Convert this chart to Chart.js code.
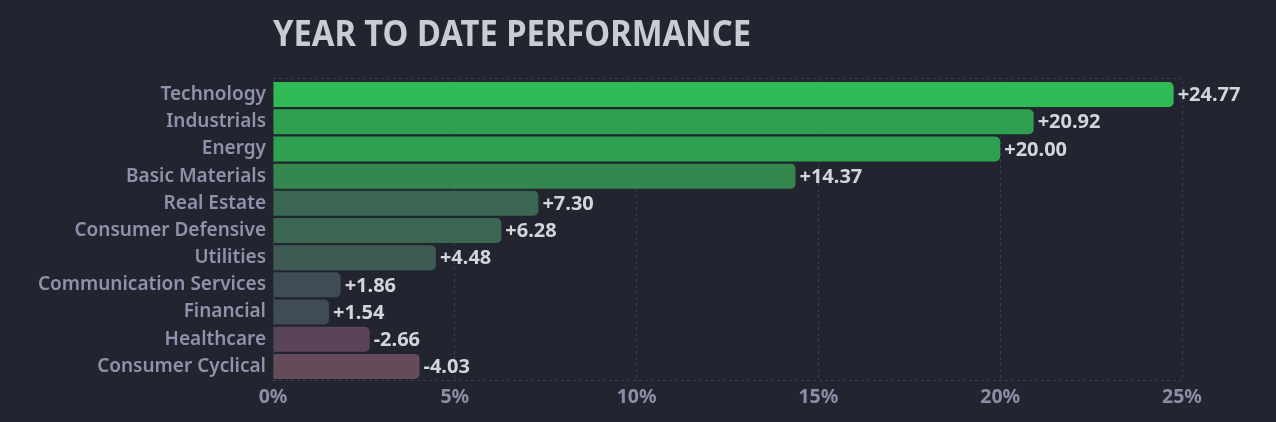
<!DOCTYPE html>
<html>
<head>
<meta charset="utf-8">
<script src="https://cdn.jsdelivr.net/npm/chart.js@4.4.1/dist/chart.umd.min.js"></script>
<style>
html,body{margin:0;padding:0;background:#22252f;}
#wrap{position:relative;width:1276px;height:422px;}
</style>
</head>
<body>
<div id="wrap"><canvas id="c" width="1276" height="422"></canvas></div>
<script>
const titleText = "YEAR TO DATE PERFORMANCE";
const sectors = ["Technology","Industrials","Energy","Basic Materials","Real Estate","Consumer Defensive","Utilities","Communication Services","Financial","Healthcare","Consumer Cyclical"];
const ytdValues = [24.77, 20.92, 20.00, 14.37, 7.30, 6.28, 4.48, 1.86, 1.54, -2.66, -4.03];
const xTicks = [0, 5, 10, 15, 20, 25];
const barColors = ["#2fba55","#2f9f50","#2f9f50","#33874f","#3a6652","#3a6652","#3d5b53","#3f4b55","#3f4b55","#5a4558","#654a59"];

const FONT = "'Noto Sans', sans-serif";
const gridColor = "#3a3e4b";

const titlePlugin = {
  id: 'leftTitle',
  afterDraw(chart) {
    const ctx = chart.ctx;
    ctx.save();
    ctx.font = "700 35px " + FONT;
    ctx.fillStyle = "#c9cbd5";
    ctx.textBaseline = "alphabetic";
    ctx.textAlign = "left";
    const w = ctx.measureText(titleText).width;
    const target = 478;
    const x0 = chart.chartArea.left;
    ctx.translate(x0, 45.5);
    ctx.scale(target / w, 1);
    ctx.fillText(titleText, 0, 0);
    ctx.restore();
  }
};

const frameLines = {
  id: 'frameLines',
  beforeDatasetsDraw(chart) {
    const ctx = chart.ctx;
    const a = chart.chartArea;
    ctx.save();
    ctx.strokeStyle = gridColor;
    ctx.lineWidth = 1;
    ctx.setLineDash([3, 3]);
    ctx.beginPath();
    ctx.moveTo(a.left, a.top - 2.5);
    ctx.lineTo(a.right, a.top - 2.5);
    ctx.moveTo(a.left, a.bottom + 0.5);
    ctx.lineTo(a.right, a.bottom + 0.5);
    ctx.stroke();
    ctx.restore();
  }
};

const valueLabels = {
  id: 'valueLabels',
  afterDatasetsDraw(chart) {
    const ctx = chart.ctx;
    const meta = chart.getDatasetMeta(0);
    ctx.save();
    ctx.font = "700 20px " + FONT;
    ctx.fillStyle = "#d3d5dd";
    ctx.textBaseline = "middle";
    ctx.textAlign = "left";
    meta.data.forEach((bar, i) => {
      const v = ytdValues[i];
      const s = (v >= 0 ? "+" : "-") + Math.abs(v).toFixed(2);
      ctx.fillText(s, bar.x + 4, bar.y + 1);
    });
    ctx.restore();
  }
};

new Chart(document.getElementById('c'), {
  type: 'bar',
  data: {
    labels: sectors,
    datasets: [{
      data: ytdValues.map(v => Math.abs(v)),
      backgroundColor: barColors,
      borderRadius: 5,
      borderSkipped: 'start',
      barPercentage: 0.92,
      categoryPercentage: 1.0
    }]
  },
  options: {
    indexAxis: 'y',
    responsive: false,
    animation: false,
    devicePixelRatio: 1,
    layout: { padding: { top: 81, right: 94, left: 0, bottom: 0 } },
    plugins: { legend: { display: false }, tooltip: { enabled: false }, title: { display: false } },
    scales: {
      x: {
        type: 'linear', min: 0, max: 25,
        afterBuildTicks(scale) { scale.ticks = xTicks.map(v => ({ value: v })); },
        afterFit(scale) { scale.height = 42; },
        ticks: {
          color: "#8a8fa6",
          font: { family: FONT, size: 19.5, weight: '700' },
          padding: 6,
          callback: v => v + "%"
        },
        grid: { color: gridColor, drawTicks: false, lineWidth: 1 },
        border: { display: false, dash: [3, 3] }
      },
      y: {
        afterFit(scale) { scale.width = 273; },
        ticks: {
          color: "#8e93ab",
          font: { family: FONT, size: 19, weight: '600' },
          padding: 7,
          autoSkip: false
        },
        grid: { display: false, drawTicks: false },
        border: { display: false }
      }
    }
  },
  plugins: [frameLines, titlePlugin, valueLabels]
});
</script>
</body>
</html>
